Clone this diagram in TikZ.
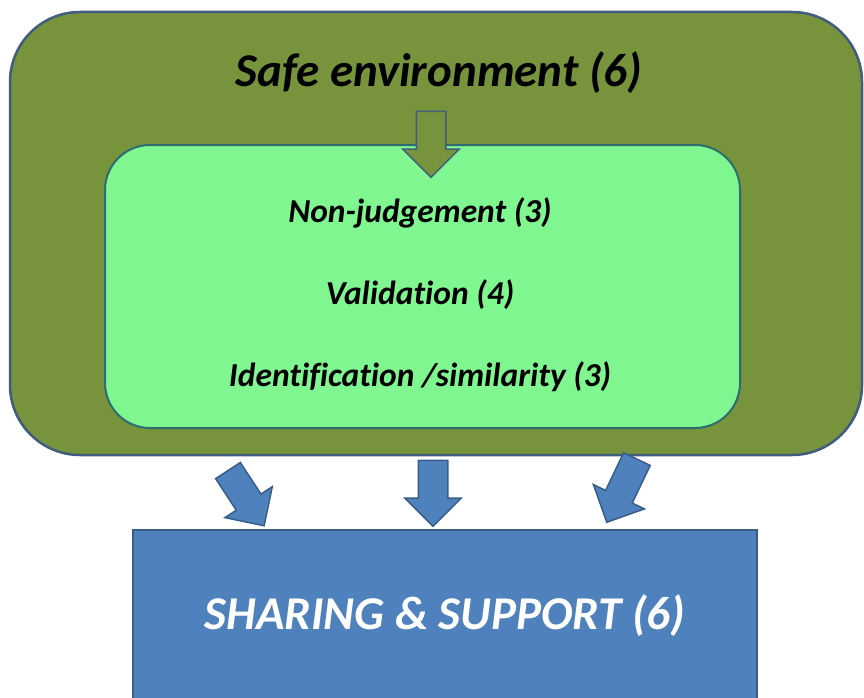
\documentclass[tikz,border=0pt]{standalone}
\usepackage{fontspec}
\setmainfont{Carlito}[Ligatures=NoCommon]
\usetikzlibrary{shapes.arrows,positioning}
\definecolor{envgreen}{RGB}{119,147,60}
\definecolor{envline}{RGB}{66,92,126}
\definecolor{innergreen}{RGB}{128,246,144}
\definecolor{innerline}{RGB}{46,108,112}
\definecolor{sharefill}{RGB}{79,129,189}
\definecolor{shareline}{RGB}{56,93,138}
\tikzset{
  envbox/.style={draw=envline, line width=2.5pt, fill=envgreen, rounded corners=70pt},
  innerbox/.style={draw=innerline, line width=2pt, fill=innergreen, rounded corners=45pt},
  sharebox/.style={draw=shareline, line width=1.5pt, fill=sharefill},
  downarrow/.style={single arrow, inner xsep=0pt, inner ysep=14pt, minimum height=66pt,
    single arrow head extend=13.5pt, single arrow head indent=0pt, line width=1.5pt},
  greenarrow/.style={downarrow, draw=envline, fill=envgreen},
  bluearrow/.style={downarrow, draw=shareline, fill=sharefill},
  item/.style={font=\fontsize{33.5}{36}\selectfont\bfseries\itshape}
}
\begin{document}
\begin{tikzpicture}[x=1pt,y=-1pt,node distance=82pt]
  \clip (0,0) rectangle (864,698);
  \useasboundingbox (0,0) rectangle (864,698);
  % outer and inner boxes
  \node (env) [envbox, minimum width=852pt, minimum height=443pt] at (436,233.5) {};
  \node (title) [font=\fontsize{47}{50}\selectfont\bfseries\itshape] at (439,73) {Safe environment (6)};
  \node (inner) [innerbox, minimum width=635pt, minimum height=283pt] at (422.5,286.5) {};
  \node (into) [greenarrow, rotate=-90] at (431,137) {};
  \node (nonjudg) [item] at (420,213) {Non-judgement (3)};
  \node (valid) [item, below of=nonjudg] {Validation (4)};
  \node (ident) [item, below of=valid] {Identification /similarity (3)};
  % sharing box and arrows
  \node (share) [sharebox, minimum width=624pt, minimum height=172pt, text=white,
    font=\fontsize{47}{50}\selectfont\bfseries\itshape] at (445,616) {SHARING \& SUPPORT (6)};
  \node (left)  [bluearrow, rotate=-56.8] at (242,492) {};
  \node (mid)   [bluearrow, rotate=-90] at (433,486) {};
  \node (right) [bluearrow, rotate=-115.5, minimum height=70pt] at (625,484) {};
\end{tikzpicture}
\end{document}
